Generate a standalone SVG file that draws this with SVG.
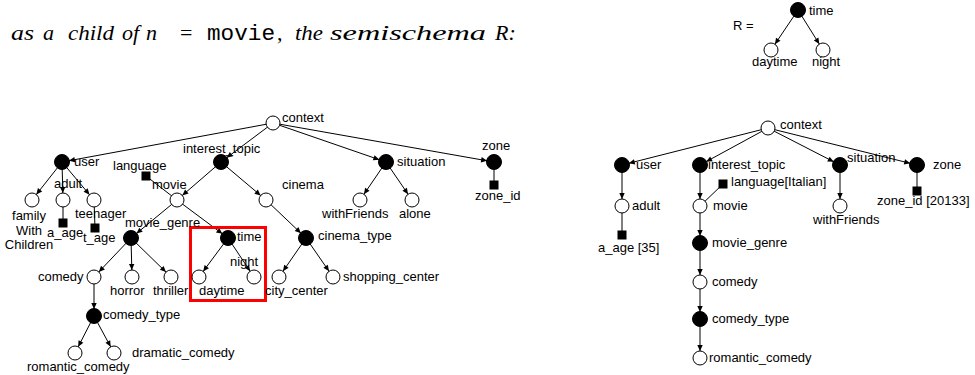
<svg xmlns="http://www.w3.org/2000/svg" width="975" height="375" viewBox="0 0 975 375">
<style>
.lbl{font-family:"Liberation Sans",Arial,sans-serif;font-size:13px;fill:#000}
.o{fill:#fff;stroke:#000;stroke-width:1}
.f{fill:#000;stroke:#000;stroke-width:1}
.e{stroke:#000;stroke-width:1;fill:none}
.a{marker-end:url(#arr)}
.t{font-family:"Liberation Serif","Times New Roman",serif;font-style:italic;font-size:22px;fill:#000}
</style>
<defs>
<marker id="arr" viewBox="0 0 20 10" refX="17" refY="5" markerWidth="20" markerHeight="10" markerUnits="userSpaceOnUse" orient="auto">
<path d="M4,2.3 L10,5 L4,7.7 z" fill="#000"/>
</marker>
</defs>
<rect width="975" height="375" fill="#fff"/>
<g id="title">
<text class="t" y="40"><tspan x="11" textLength="23" lengthAdjust="spacingAndGlyphs">as</tspan><tspan x="43">a</tspan><tspan x="68" textLength="46" lengthAdjust="spacingAndGlyphs">child</tspan><tspan x="122">of</tspan><tspan x="146">n</tspan><tspan x="180" font-style="normal">=</tspan><tspan x="207" font-style="normal" font-family="'Liberation Mono','Courier New',monospace" textLength="68" lengthAdjust="spacingAndGlyphs">movie</tspan><tspan x="277" font-style="normal">,</tspan><tspan x="295" textLength="28" lengthAdjust="spacingAndGlyphs">the</tspan><tspan x="330" textLength="156" lengthAdjust="spacingAndGlyphs">semischema</tspan><tspan x="495">R:</tspan></text>
</g>
<g id="connectors">
<line class="e a" x1="798" y1="10" x2="771" y2="50"/>
<line class="e a" x1="798" y1="10" x2="823" y2="50"/>
<line class="e a" x1="273" y1="123" x2="62" y2="162"/>
<line class="e a" x1="273" y1="123" x2="221" y2="162"/>
<line class="e a" x1="273" y1="123" x2="386" y2="162"/>
<line class="e a" x1="273" y1="123" x2="494" y2="162"/>
<line class="e" x1="494" y1="162" x2="494" y2="185"/>
<line class="e a" x1="62" y1="162" x2="32" y2="200"/>
<line class="e a" x1="62" y1="162" x2="63" y2="200"/>
<line class="e a" x1="62" y1="162" x2="94" y2="200"/>
<line class="e" x1="63" y1="200" x2="63" y2="223"/>
<line class="e" x1="94" y1="200" x2="95" y2="228"/>
<line class="e a" x1="221" y1="162" x2="177" y2="200"/>
<line class="e a" x1="221" y1="162" x2="266" y2="200"/>
<line class="e" x1="146" y1="176" x2="177" y2="200"/>
<line class="e a" x1="386" y1="162" x2="360" y2="200"/>
<line class="e a" x1="386" y1="162" x2="412" y2="200"/>
<line class="e a" x1="177" y1="200" x2="131" y2="238"/>
<line class="e a" x1="177" y1="200" x2="228" y2="238"/>
<line class="e a" x1="266" y1="200" x2="306" y2="238"/>
<line class="e a" x1="131" y1="238" x2="94" y2="277"/>
<line class="e a" x1="131" y1="238" x2="132" y2="277"/>
<line class="e a" x1="131" y1="238" x2="171" y2="277"/>
<line class="e a" x1="228" y1="238" x2="199" y2="277"/>
<line class="e a" x1="228" y1="238" x2="254" y2="277"/>
<line class="e a" x1="306" y1="238" x2="279" y2="277"/>
<line class="e a" x1="306" y1="238" x2="333" y2="277"/>
<line class="e a" x1="94" y1="277" x2="94" y2="316"/>
<line class="e a" x1="94" y1="316" x2="75" y2="353"/>
<line class="e a" x1="94" y1="316" x2="114" y2="353"/>
<line class="e a" x1="768" y1="128" x2="622" y2="165"/>
<line class="e a" x1="768" y1="128" x2="700" y2="165"/>
<line class="e a" x1="768" y1="128" x2="840" y2="165"/>
<line class="e a" x1="768" y1="128" x2="917" y2="165"/>
<line class="e a" x1="622" y1="165" x2="622" y2="206"/>
<line class="e" x1="622" y1="206" x2="622" y2="235"/>
<line class="e a" x1="700" y1="165" x2="700" y2="206"/>
<line class="e" x1="723" y1="184" x2="700" y2="206"/>
<line class="e a" x1="840" y1="165" x2="840" y2="206"/>
<line class="e" x1="917" y1="165" x2="917" y2="191"/>
<line class="e a" x1="700" y1="206" x2="700" y2="243"/>
<line class="e a" x1="700" y1="243" x2="700" y2="282"/>
<line class="e a" x1="700" y1="282" x2="700" y2="319"/>
<line class="e a" x1="700" y1="319" x2="700" y2="358"/>
</g>
<rect id="highlight" x="190.5" y="227.5" width="75" height="73" fill="none" stroke="#f00" stroke-width="3"/>
<g id="R_label"><text class="lbl" x="733" y="30">R =</text></g>
<g id="r_time"><circle class="f" cx="798" cy="10" r="7.5"/><text class="lbl" x="809" y="15">time</text></g>
<g id="r_daytime"><circle class="o" cx="771" cy="50" r="7"/><text class="lbl" x="752" y="66">daytime</text></g>
<g id="r_night"><circle class="o" cx="823" cy="50" r="7"/><text class="lbl" x="812" y="66">night</text></g>
<g id="l_context"><circle class="o" cx="273" cy="123" r="7"/><text class="lbl" x="282" y="122">context</text></g>
<g id="l_user"><circle class="f" cx="62" cy="162" r="7.5"/><text class="lbl" x="74" y="166">user</text></g>
<g id="l_interest_topic"><circle class="f" cx="221" cy="162" r="7.5"/><text class="lbl" x="183" y="153">interest_topic</text></g>
<g id="l_situation"><circle class="f" cx="386" cy="162" r="7.5"/><text class="lbl" x="397" y="166">situation</text></g>
<g id="l_zone"><circle class="f" cx="494" cy="162" r="7.5"/><text class="lbl" x="482" y="150">zone</text></g>
<g id="l_zone_id"><rect class="f" x="490" y="181" width="8" height="8"/><text class="lbl" x="475" y="200">zone_id</text></g>
<g id="l_family"><circle class="o" cx="32" cy="200" r="7"/><text class="lbl" text-anchor="middle" x="29" y="220">family<tspan x="29" dy="14.5">With</tspan><tspan x="29" dy="14.5">Children</tspan></text></g>
<g id="l_adult"><circle class="o" cx="63" cy="200" r="7"/><text class="lbl" x="54" y="188">adult</text></g>
<g id="l_a_age"><rect class="f" x="59" y="219" width="8" height="8"/><text class="lbl" x="47" y="237">a_age</text></g>
<g id="l_teenager"><circle class="o" cx="94" cy="200" r="7"/><text class="lbl" x="75" y="218">teenager</text></g>
<g id="l_t_age"><rect class="f" x="91" y="224" width="8" height="8"/><text class="lbl" x="83" y="242">t_age</text></g>
<g id="l_language"><rect class="f" x="142" y="172" width="8" height="8"/><text class="lbl" x="113" y="170">language</text></g>
<g id="l_movie"><circle class="o" cx="177" cy="200" r="7"/><text class="lbl" x="152" y="189">movie</text></g>
<g id="l_cinema"><circle class="o" cx="266" cy="200" r="7"/><text class="lbl" x="282" y="189">cinema</text></g>
<g id="l_withFriends"><circle class="o" cx="360" cy="200" r="7"/><text class="lbl" x="322" y="218">withFriends</text></g>
<g id="l_alone"><circle class="o" cx="412" cy="200" r="7"/><text class="lbl" x="399" y="218">alone</text></g>
<g id="l_movie_genre"><circle class="f" cx="131" cy="238" r="7.5"/><text class="lbl" x="125" y="227">movie_genre</text></g>
<g id="l_time"><circle class="f" cx="228" cy="238" r="7.5"/><text class="lbl" x="237" y="241">time</text></g>
<g id="l_cinema_type"><circle class="f" cx="306" cy="238" r="7.5"/><text class="lbl" x="318" y="240">cinema_type</text></g>
<g id="l_comedy"><circle class="o" cx="94" cy="277" r="7"/><text class="lbl" x="38" y="281">comedy</text></g>
<g id="l_horror"><circle class="o" cx="132" cy="277" r="7"/><text class="lbl" x="110" y="295">horror</text></g>
<g id="l_thriller"><circle class="o" cx="171" cy="277" r="7"/><text class="lbl" x="153" y="295">thriller</text></g>
<g id="l_daytime"><circle class="o" cx="199" cy="277" r="7"/><text class="lbl" x="199" y="295">daytime</text></g>
<g id="l_night"><circle class="o" cx="254" cy="277" r="7"/><text class="lbl" x="230" y="266">night</text></g>
<g id="l_city_center"><circle class="o" cx="279" cy="277" r="7"/><text class="lbl" x="265" y="295">city_center</text></g>
<g id="l_shopping_center"><circle class="o" cx="333" cy="277" r="7"/><text class="lbl" x="343" y="281">shopping_center</text></g>
<g id="l_comedy_type"><circle class="f" cx="94" cy="316" r="7.5"/><text class="lbl" x="103" y="319">comedy_type</text></g>
<g id="l_romantic_comedy"><circle class="o" cx="75" cy="353" r="7"/><text class="lbl" x="27" y="371">romantic_comedy</text></g>
<g id="l_dramatic_comedy"><circle class="o" cx="114" cy="353" r="7"/><text class="lbl" x="132" y="357">dramatic_comedy</text></g>
<g id="r_context"><circle class="o" cx="768" cy="128" r="7"/><text class="lbl" x="780" y="129">context</text></g>
<g id="r_user"><circle class="f" cx="622" cy="165" r="7.5"/><text class="lbl" x="636" y="169">user</text></g>
<g id="r_interest_topic"><circle class="f" cx="700" cy="165" r="7.5"/><text class="lbl" x="708" y="169">interest_topic</text></g>
<g id="r_situation"><circle class="f" cx="840" cy="165" r="7.5"/><text class="lbl" x="847" y="162">situation</text></g>
<g id="r_zone"><circle class="f" cx="917" cy="165" r="7.5"/><text class="lbl" x="933" y="169">zone</text></g>
<g id="r_adult"><circle class="o" cx="622" cy="206" r="7"/><text class="lbl" x="632" y="210">adult</text></g>
<g id="r_a_age"><rect class="f" x="618" y="231" width="8" height="8"/><text class="lbl" x="598" y="252">a_age [35]</text></g>
<g id="r_language"><rect class="f" x="719" y="180" width="8" height="8"/><text class="lbl" x="731" y="186">language[Italian]</text></g>
<g id="r_movie"><circle class="o" cx="700" cy="206" r="7"/><text class="lbl" x="713" y="210">movie</text></g>
<g id="r_withFriends"><circle class="o" cx="840" cy="206" r="7"/><text class="lbl" x="813" y="224">withFriends</text></g>
<g id="r_zone_id"><rect class="f" x="913" y="187" width="8" height="8"/><text class="lbl" x="877" y="205">zone_id [20133]</text></g>
<g id="r_movie_genre"><circle class="f" cx="700" cy="243" r="7.5"/><text class="lbl" x="712" y="247">movie_genre</text></g>
<g id="r_comedy"><circle class="o" cx="700" cy="282" r="7"/><text class="lbl" x="712" y="286">comedy</text></g>
<g id="r_comedy_type"><circle class="f" cx="700" cy="319" r="7.5"/><text class="lbl" x="712" y="323">comedy_type</text></g>
<g id="r_romantic_comedy"><circle class="o" cx="700" cy="358" r="7"/><text class="lbl" x="709" y="362">romantic_comedy</text></g>
</svg>
